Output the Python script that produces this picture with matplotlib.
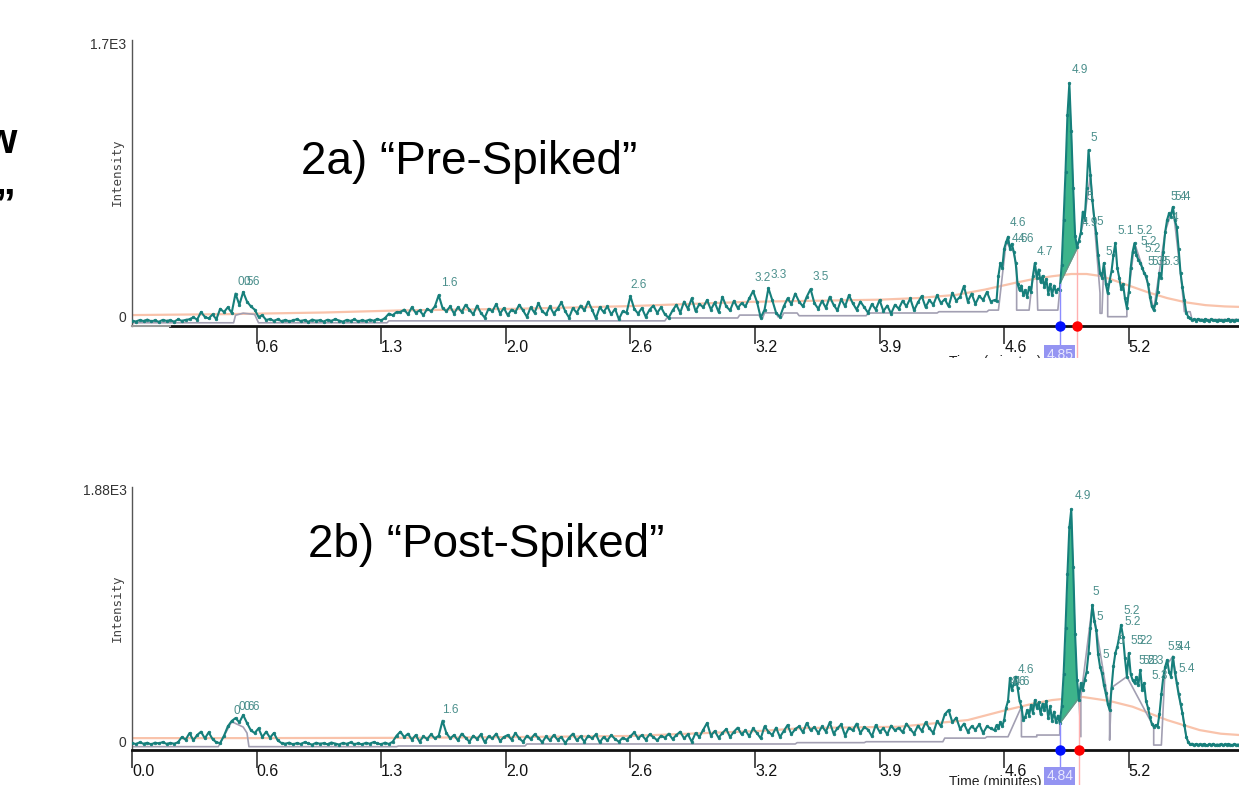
import numpy as np
import matplotlib
matplotlib.use('Agg')
import matplotlib.pyplot as plt
from matplotlib import font_manager
from matplotlib.patches import Rectangle

# ---------------- data ----------------
tick_pos = [0.0, 0.65, 1.30, 1.95, 2.60, 3.25, 3.90, 4.55, 5.20]
tick_lbl = ['0.0', '0.6', '1.3', '2.0', '2.6', '3.2', '3.9', '4.6', '5.2']

# Pre-spiked (2a): trace sampled every 0.02 min from 0.00 to 4.48
pre_noise = [
    -28, -34, -25, -31, -22, -33, -27, -36, -24, -30,
    -26, -35, -21, -30, -24, -20, -8, -22, 25, -5,
    -15, 10, -20, 45, 25, 55, 20, 140, 70, 150,
    90, 60, 40, -5, 5, -25, -18, -30, -20, -32,
    -24, -33, -27, -20, -31, -25, -36, -22, -29, -26,
    -34, -23, -30, -19, -28, -35, -24, -30, -21, -33,
    -26, -31, -22, -29, -18, -27, -12, 15, 5, 25,
    25, 40, 10, 55, 20, 35, 5, 45, 30, 60,
    130, 50, 30, 60, 15, 55, 25, 70, 40, 10,
    65, 20, -10, 45, 30, 75, 15, 50, 5, 40,
    25, 70, 35, -5, 55, 20, 80, 30, 10, 60,
    15, 45, 85, 30, -10, 50, 20, 65, 35, 90,
    40, -15, 55, 25, 60, 10, 45, -20, 30, 20,
    124, 45, 15, 50, -5, 40, 65, 20, 55, 10,
    -10, 35, 70, 20, 90, 45, 110, 30, 75, 55,
    100, 40, 85, 25, 120, 60, 35, 95, 50, 80,
    60, 110, 155, 90, -10, 40, 174, 100, 20, -5,
    60, 110, 75, 140, 90, 60, 120, 168, 80, 45,
    95, 50, 120, 70, 35, 105, 60, 130, 80, 40,
    90, 55, 20, 75, 40, 100, 30, 65, 15, 70,
    45, 95, 60, 110, 35, 85, 125, 55, 100, 70,
    130, 80, 105, 60, 145, 95, 120, 187, 90, 140,
    75, 125, 100, 150, 90]
# Pre-spiked: trace sampled every 0.01 min from 4.50 to 5.78
pre_peak = [
    100, 95, 250, 330, 300, 420, 460, 494, 420, 450,
    400, 330, 200, 160, 190, 130, 160, 120, 180, 150,
    250, 330, 240, 290, 210, 250, 180, 230, 140, 200,
    130, 190, 150, 170, 165, 320, 600, 900, 1250, 1450,
    1150, 800, 500, 430, 470, 520, 650, 600, 800, 1034,
    880, 720, 610, 517, 380, 268, 240, 330, 200, 143,
    220, 280, 380, 455, 300, 240, 170, 200, 110, 50,
    150, 300, 400, 455, 380, 350, 330, 300, 268, 250,
    200, 120, 60, 37, 80, 150, 268, 240, 400, 525,
    600, 640, 620, 680, 600, 556, 420, 268, 180, 100,
    20, -4, -15, -25, -20, -28, -18, -25,
    -22, -28, -20, -26, -30, -21, -27, -24, -29, -22,
    -26, -31, -23, -27, -20, -28, -25, -30, -22, -26, -24]

pre_gray_t = [0.0, 0.53, 0.54, 0.58, 0.64, 0.66, 1.33, 1.34, 2.78, 2.79, 3.16, 3.17,
              3.27, 3.28, 3.29, 3.30, 3.36, 3.37, 3.39, 3.40, 3.47, 3.48, 3.83, 3.84,
              4.20, 4.21, 4.46, 4.47, 4.52, 4.56, 4.60, 4.615, 4.615, 4.68, 4.69, 4.71,
              4.72, 4.725, 4.83, 4.84]
pre_gray_v = [-42, -42, 5, 18, 10, -42, -42, -30, -30, -12, -12, 6,
              6, -12, -12, 20, 20, -5, -5, 19, 19, 2, 2, 19,
              19, 27, 27, 37, 37, 460, 400, 300, 37, 37, 150, 330,
              240, 37, 37, 165]
pre_gray2_t = [4.93, 4.97, 5.00, 5.05, 5.05, 5.06, 5.07, 5.09, 5.09, 5.19, 5.19, 5.23,
               5.30, 5.33, 5.39, 5.43, 5.47, 5.49, 5.52, 5.53, 5.78]
pre_gray2_v = [420, 620, 880, 143, 17, 17, 330, 143, -4, -4, 50, 455,
               200, 37, 525, 680, 268, 27, 27, -22, -22]

pre_orange_t = [0, 0.5, 1.0, 1.4, 2.0, 2.6, 3.2, 3.6, 3.9, 4.1, 4.3, 4.45, 4.6, 4.7,
                4.8, 4.9, 4.98, 5.05, 5.1, 5.2, 5.3, 5.4, 5.5, 5.6, 5.7, 5.78]
pre_orange_v = [6, 12, 22, 35, 45, 62, 88, 96, 102, 112, 132, 165, 205, 230,
                248, 262, 262, 250, 232, 190, 148, 112, 85, 68, 60, 57]

pre_area = [4.84, 4.93]       # integration window (start, end) in minutes
pre_area_base = [200, 420]    # baseline under the integrated peak

pre_labels = [('0.5', 0.548, 174), ('0.6', 0.584, 174), ('1.6', 1.61, 168),
              ('2.6', 2.60, 156), ('3.2', 3.25, 200), ('3.3', 3.33, 218),
              ('3.5', 3.55, 206), ('4.6', 4.58, 542), ('4.6', 4.59, 442),
              ('4.6', 4.62, 442), ('4.7', 4.72, 361), ('4.9', 4.90, 1495),
              ('5', 5.00, 1072), ('5', 4.98, 704), ('4.9', 4.955, 542),
              ('5', 5.03, 548), ('5', 5.08, 361), ('5.1', 5.14, 492),
              ('5.2', 5.24, 492), ('5.2', 5.26, 424), ('5.2', 5.28, 380),
              ('5.3', 5.30, 299), ('5.3', 5.32, 299), ('5.3', 5.38, 299),
              ('5.4', 5.415, 704), ('5.4', 5.44, 704), ('4', 5.425, 573)]

# Post-spiked (2b)
post_noise = [
    -15, -22, -10, -20, -13, -25, -12, -18, -8, -21,
    -14, -20, -9, 30, 10, 60, 5, 45, 70, 20,
    65, 15, -10, -15, 40, 110, 150, 172, 140, 195,
    135, 80, 60, 95, 30, 70, 25, 60, 5, -15,
    -20, -12, -25, -15, -22, -9, -18, -27, -13, -20,
    -16, -24, -11, -19, -26, -14, -21, -10, -23, -17,
    -25, -13, -20, -8, -18, -24, -12, -22, -5, 40,
    70, 30, 55, 10, 45, -5, 35, 15, 50, 20,
    40, 152, 60, 20, 45, 5, 55, 25, -5, 40,
    15, 50, -10, 35, 20, 55, 0, 30, 45, 10,
    60, 20, -5, 40, 15, 50, 25, -10, 35, 5,
    45, 10, 30, -15, 25, 55, 5, 35, -5, 40,
    20, 50, -10, 30, 5, 45, 15, -5, 25, 10,
    35, 65, 20, 45, 10, 50, 30, 5, 40, 25,
    55, 15, 45, 70, 20, 50, -5, 60, 30, 85,
    135, 40, 75, 25, 60, 90, 30, 70, 100, 50,
    80, 35, 95, 60, 20, 110, 70, 45, 100, 30,
    75, 120, 50, 90, 110, 65, 135, 80, 105, 60,
    110, 70, 140, 55, 95, 125, 40, 100, 80, 130,
    60, 105, 85, 35, 120, 70, 95, 50, 115, 80,
    100, 65, 130, 90, 55, 115, 75, 140, 95, 60,
    150, 110, 200, 232, 140, 175, 90, 130, 70, 110,
    85, 125, 60, 110, 95]
post_peak = [
    80, 120, 95, 140, 110, 160, 250, 300, 472, 380,
    430, 482, 400, 300, 257, 157, 180, 232, 190, 270,
    210, 307, 250, 290, 200, 280, 230, 300, 170, 260,
    150, 220, 140, 190, 132, 260, 500, 850, 1250, 1600,
    1735, 1300, 800, 457, 307, 434, 380, 457, 520, 659,
    850, 1019, 900, 831, 650, 557, 507, 420, 357, 280,
    232, 400, 560, 659, 707, 780, 869, 782, 620, 482,
    659, 500, 457, 434, 480, 420, 532, 382, 434, 300,
    250, 180, 130, 107, 120, 107, 200, 350, 480, 557,
    607, 520, 482, 632, 520, 434, 350, 280, 210, 120,
    32, -10, -25, -20, -30, -22, -28, -25,
    -30, -22, -27, -33, -24, -29, -21, -31, -26, -28,
    -23, -32, -25, -29, -22, -27, -30, -24, -28, -26, -31]

post_gray_t = [0.0, 0.45, 0.52, 0.58, 0.60, 0.61, 1.38, 1.39, 2.05, 2.06, 3.46, 3.47,
               3.82, 3.83, 4.23, 4.24, 4.45, 4.46, 4.57, 4.64, 4.64, 4.72, 4.72, 4.84, 4.84]
post_gray_v = [-42, -42, 145, 105, 60, -42, -42, -37, -37, -22, -22, -12,
               -12, -5, -5, 22, 22, 32, 32, 257, 32, 32, 45, 45, 132]
post_gray2_t = [4.94, 4.95, 4.95, 5.01, 5.10, 5.10, 5.11, 5.19, 5.33, 5.33, 5.37,
                5.39, 5.43, 5.47, 5.50, 5.52, 5.78]
post_gray2_v = [322, 32, 330, 1019, 232, 7, 400, 482, 107, -30, -30,
                557, 632, 280, 32, -30, -30]

post_orange_t = [0, 0.6, 1.4, 2.0, 2.6, 3.3, 3.5, 4.0, 4.36, 4.56, 4.7, 4.8, 4.96,
                 5.1, 5.22, 5.4, 5.57, 5.68, 5.78]
post_orange_v = [22, 22, 24, 30, 38, 77, 97, 107, 157, 232, 280, 307, 330,
                 300, 257, 157, 82, 55, 45]

post_area = [4.84, 4.94]
post_area_base = [132, 322]

post_labels = [('0', 0.53, 180), ('0.6', 0.553, 210), ('0.6', 0.584, 210),
               ('1.6', 1.62, 187), ('4.6', 4.62, 487), ('4.6', 4.58, 397),
               ('4.6', 4.60, 397), ('4.9', 4.92, 1790), ('5', 5.01, 1071),
               ('5', 5.03, 884), ('5', 5.065, 599), ('5.2', 5.17, 929),
               ('5.2', 5.18, 846), ('5', 5.14, 704), ('5.2', 5.21, 704),
               ('5.2', 5.24, 704), ('5.2', 5.25, 554), ('5.3', 5.27, 554),
               ('5.3', 5.30, 554), ('5.3', 5.32, 442), ('5.4', 5.40, 659),
               ('5.4', 5.44, 659), ('5.4', 5.46, 494)]

# ---------------- style ----------------
names = {f.name for f in font_manager.fontManager.ttflist}
if 'Liberation Sans Narrow' in names:
    NARROW = 'Liberation Sans Narrow'
elif 'Liberation Sans' in names:
    NARROW = 'Liberation Sans'
else:
    NARROW = 'DejaVu Sans'
TITLE = 'Liberation Sans' if 'Liberation Sans' in names else 'DejaVu Sans'

TEAL = '#167f7b'
LABEL_C = '#4b8f8c'
GRAY = '#a29fb2'
ORANGE = '#f9c3ab'
GREEN = '#3db48b'

W, H = 1239, 785
fig = plt.figure(figsize=(W / 100, H / 100), dpi=100)


def fx(px):
    return px / W


def fy(py):
    return 1 - py / H


XMAX = 5.775


def panel(ax_box, noise, peak, gray_t, gray_v, gray2_t, gray2_v, or_t, or_v,
          area, area_base, labels, ylim, ytop, ytop_lbl, show_zero_tick):
    ax = fig.add_axes(ax_box)
    t1 = 0.02 * np.arange(len(noise))
    t2 = 4.50 + 0.01 * np.arange(len(peak))
    t = np.concatenate([t1, t2])
    y = np.concatenate([np.array(noise, float), np.array(peak, float)])

    ax.plot(or_t, or_v, color=ORANGE, lw=1.6, zorder=1)
    ax.plot(gray_t, gray_v, color=GRAY, lw=1.2, zorder=2)
    ax.plot(gray2_t, gray2_v, color=GRAY, lw=1.2, zorder=2)

    m = (t >= area[0] - 1e-9) & (t <= area[1] + 1e-9)
    base = np.interp(t[m], area, area_base)
    ax.fill_between(t[m], y[m], base, color=GREEN, lw=0, zorder=3)
    ax.plot(area, area_base, color='#6f8f88', lw=0.8, zorder=3)

    ax.plot(t, y, color=TEAL, lw=1.5, marker='o', ms=1.9, mew=0.5, zorder=4)

    for txt, tx, ty in labels:
        ax.text(tx, ty, txt, color=LABEL_C, fontsize=8.5, family=NARROW,
                ha='left', va='bottom', zorder=5)

    ax.set_xlim(0, XMAX)
    ax.set_ylim(*ylim)
    ax.set_yticks([0, ytop])
    ax.set_yticklabels(['0', ytop_lbl], family=NARROW, fontsize=10, color='#333333')
    ax.tick_params(axis='y', length=0, pad=4)

    if show_zero_tick:
        pos, lbl = tick_pos, tick_lbl
    else:
        pos, lbl = tick_pos[1:], tick_lbl[1:]
    ax.set_xticks(pos)
    ax.set_xticklabels(lbl, family=NARROW, fontsize=11.5, color='#111111')
    ax.tick_params(axis='x', length=13, width=1.1, color='#222222', pad=-3,
                   direction='out')
    for lab in ax.get_xticklabels():
        lab.set_horizontalalignment('left')

    for s in ['top', 'right']:
        ax.spines[s].set_visible(False)
    ax.spines['left'].set_color('#555555')
    ax.spines['left'].set_linewidth(1.0)
    ax.spines['bottom'].set_color('#111111')
    ax.spines['bottom'].set_linewidth(2.0)

    # integration markers
    y_end = np.interp(area[1], t, y)
    ax.plot([area[0], area[0]], [ylim[0] - 400, area_base[0]], color='#8c8cff',
            lw=1.0, zorder=6, clip_on=False)
    ax.plot([area[1], area[1]], [ylim[0] - 400, y_end], color='#ffb0b0',
            lw=1.0, zorder=2, clip_on=False)
    ax.plot([area[0]], [ylim[0]], 'o', color='#0010ff', ms=6.5, zorder=8, clip_on=False)
    ax.plot([area[1]], [ylim[0]], 'o', color='#ff0000', ms=6.5, zorder=8, clip_on=False)
    return ax


ax1 = panel([fx(132), fy(326), fx(W) - fx(132), fy(40) - fy(326)],
            pre_noise, pre_peak, pre_gray_t, pre_gray_v, pre_gray2_t, pre_gray2_v,
            pre_orange_t, pre_orange_v, pre_area, pre_area_base, pre_labels,
            (-62, 1720), 1700, '1.7E3', False)
ax2 = panel([fx(132), fy(750), fx(W) - fx(132), fy(487) - fy(750)],
            post_noise, post_peak, post_gray_t, post_gray_v, post_gray2_t, post_gray2_v,
            post_orange_t, post_orange_v, post_area, post_area_base, post_labels,
            (-67, 1902), 1880, '1.88E3', True)

# top panel: leftmost part of the time axis is drawn in gray
ax1.spines['bottom'].set_bounds(0.2, XMAX)
ax1.plot([0, 0.2], [-62, -62], color='#9a9a9a', lw=1.5, clip_on=False, zorder=7)

# retention-time boxes under the axis
ax1.text(pre_area[0], -240, '4.85', ha='center', va='center', color='#e8e8ff',
         fontsize=10, family=NARROW, clip_on=False, zorder=9,
         bbox=dict(boxstyle='square,pad=0.15', fc='#9494f2', ec='none'))
ax2.text(post_area[0], -265, '4.84', ha='center', va='center', color='#e8e8ff',
         fontsize=10, family=NARROW, clip_on=False, zorder=9,
         bbox=dict(boxstyle='square,pad=0.15', fc='#9494f2', ec='none'))

# axis titles
for yc in (172, 608):
    fig.text(fx(117), fy(yc), 'Intensity', rotation=90, ha='center', va='center',
             fontsize=9, family='DejaVu Sans Mono', color='#444444')
fig.text(fx(995), fy(355), 'Time (minutes)', ha='center', va='top', fontsize=10,
         family=NARROW, color='#222222')
fig.text(fx(995), fy(775), 'Time (minutes)', ha='center', va='top', fontsize=10,
         family=NARROW, color='#222222')

# white band (screenshot crop between the two panels)
fig.patches.append(Rectangle((0, fy(470)), 1, fy(358) - fy(470), transform=fig.transFigure,
                             facecolor='white', edgecolor='none', zorder=20))

# panel titles
fig.text(fx(469), fy(162), '2a) \u201cPre-Spiked\u201d', ha='center', va='center',
         fontsize=33, family=TITLE, color='black')
fig.text(fx(486), fy(545), '2b) \u201cPost-Spiked\u201d', ha='center', va='center',
         fontsize=33, family=TITLE, color='black')

# cropped text at the left edge
fig.text(fx(17), fy(153), 'w', ha='right', va='baseline', fontsize=30,
         family=TITLE, weight='bold', color='black')
fig.text(fx(16), fy(186), '\u201d', ha='right', va='top', fontsize=30,
         family=TITLE, weight='bold', color='black')

fig.savefig('out.png', dpi=100)
